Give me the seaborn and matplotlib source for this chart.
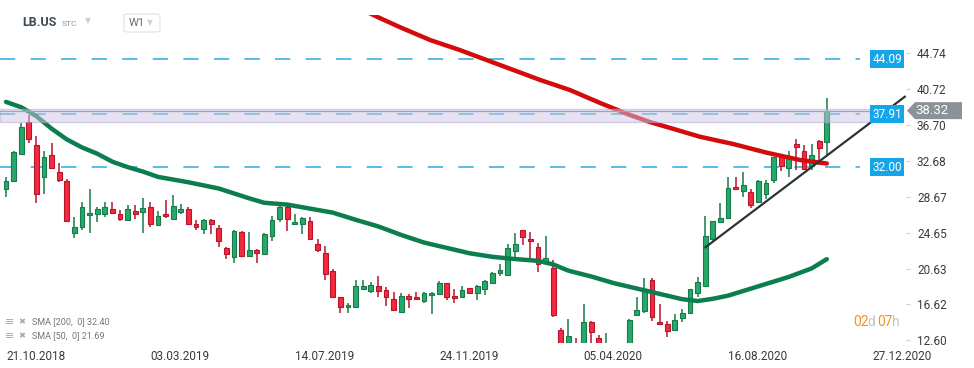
import pandas as pd
import matplotlib
matplotlib.use("Agg")
import matplotlib.pyplot as plt
from matplotlib.patches import FancyBboxPatch, Polygon
import seaborn as sns

# weekly candles, LB.US, first week 21.10.2018
start_date = "2018-10-21"
opens = [29.6, 30.4, 33.5, 37.1, 34.5, 30.9, 33.3, 31.5, 30.4, 24.6,
         25.3, 26.6, 26.8, 26.8, 27.3, 26.8, 26.1, 27.1, 27.0, 27.5,
         25.5, 26.8, 26.2, 27.0, 27.3, 25.6, 25.1, 26.1, 25.2, 22.9,
         21.9, 24.7, 22.0, 22.7, 22.3, 24.3, 26.2, 27.5, 25.6, 25.6,
         26.0, 23.4, 22.4, 20.4, 17.5, 16.3, 16.3, 18.4, 18.1, 18.7,
         18.2, 17.2, 15.8, 17.6, 17.5, 17.0, 17.7, 17.8, 19.0, 17.6,
         17.5, 18.5, 17.9, 18.4, 19.0, 20.1, 19.9, 22.6, 24.9, 23.9,
         23.0, 21.5, 20.7, 13.8, 10.0, 12.0, 10.6, 14.6, 12.9, 11.6,
         12.0, 11.0, 10.6, 15.4, 15.9, 19.4, 14.7, 14.4, 13.7, 15.1,
         15.7, 17.9, 18.7, 23.9, 25.8, 26.3, 29.8, 29.3, 29.2, 28.1,
         29.0, 30.6, 33.2, 31.9, 34.6, 33.8, 32.1, 34.9, 34.8]
highs = [30.9, 33.8, 36.9, 37.8, 35.5, 33.8, 34.7, 32.5, 30.7, 26.4,
         28.1, 29.5, 27.5, 28.1, 28.1, 27.2, 27.8, 27.7, 28.5, 28.1,
         27.1, 28.3, 28.9, 27.9, 27.5, 26.1, 26.2, 26.2, 25.5, 23.0,
         24.9, 24.8, 24.7, 22.8, 24.6, 26.5, 27.7, 27.7, 26.8, 26.4,
         26.4, 24.0, 23.2, 20.6, 17.5, 16.8, 19.4, 19.4, 19.1, 19.8,
         18.6, 18.0, 17.9, 17.8, 18.0, 18.0, 18.0, 19.2, 19.0, 18.4,
         18.7, 18.5, 18.8, 19.4, 20.2, 21.1, 23.4, 24.6, 25.0, 24.7,
         23.5, 24.3, 21.6, 14.0, 15.0, 12.9, 16.7, 14.8, 13.2, 13.4,
         12.2, 11.8, 15.0, 17.4, 19.6, 19.6, 16.7, 14.8, 15.6, 16.1,
         18.4, 19.7, 26.5, 26.0, 28.0, 30.9, 30.9, 31.5, 29.6, 30.6,
         30.6, 33.1, 33.2, 33.8, 35.2, 34.5, 34.6, 35.0, 39.7]
lows = [28.7, 30.3, 33.3, 34.7, 28.0, 29.0, 31.8, 30.3, 25.9, 24.1,
        25.0, 24.6, 25.8, 26.4, 26.7, 26.0, 26.0, 26.2, 24.6, 25.3,
        25.4, 26.3, 26.2, 26.7, 25.5, 24.9, 24.5, 24.5, 23.0, 21.7,
        21.3, 21.9, 21.9, 21.3, 22.1, 23.7, 25.9, 24.8, 25.6, 24.5,
        23.9, 22.5, 19.3, 17.3, 15.7, 15.7, 16.3, 18.2, 17.9, 17.4,
        16.4, 16.0, 15.8, 16.2, 17.2, 16.8, 15.6, 17.7, 17.1, 16.8,
        17.4, 17.9, 17.1, 17.7, 19.0, 19.8, 19.9, 21.8, 23.3, 21.8,
        20.3, 21.0, 15.2, 9.5, 9.0, 9.8, 10.4, 12.0, 11.2, 11.0,
        10.7, 10.2, 10.4, 15.3, 15.7, 14.8, 14.3, 13.0, 13.6, 14.6,
        15.7, 17.5, 18.6, 23.7, 25.8, 26.2, 29.4, 28.7, 27.4, 28.0,
        28.4, 30.2, 31.6, 30.9, 31.7, 31.7, 31.7, 32.2, 33.4]
closes = [30.4, 33.7, 36.5, 35.2, 29.0, 33.1, 31.9, 30.6, 26.0, 25.3,
          27.5, 26.9, 27.3, 27.5, 26.9, 26.2, 27.3, 26.7, 27.4, 25.6,
          26.5, 26.5, 27.6, 27.3, 25.6, 25.3, 26.1, 25.6, 23.7, 22.3,
          24.8, 22.0, 22.7, 22.4, 24.5, 26.1, 27.5, 26.2, 25.8, 26.3,
          24.0, 22.7, 20.0, 17.4, 16.3, 16.6, 18.7, 18.7, 18.8, 18.1,
          17.4, 16.0, 17.6, 17.2, 17.2, 17.9, 17.9, 19.0, 17.5, 17.3,
          18.2, 17.9, 18.7, 19.2, 20.1, 20.5, 22.9, 23.4, 24.2, 23.7,
          21.1, 21.8, 15.4, 10.5, 13.1, 10.4, 14.7, 13.5, 11.6, 12.1,
          11.0, 10.5, 14.9, 16.0, 18.3, 15.2, 14.4, 13.6, 14.9, 15.7,
          18.4, 19.1, 24.3, 26.0, 26.3, 29.7, 29.5, 30.0, 27.8, 30.4,
          30.2, 33.1, 32.1, 33.2, 34.3, 31.8, 33.3, 34.1, 38.32]

# moving averages (week index, value)
sma50_week = [0, 2, 4, 6, 8, 10, 12, 14, 16, 18, 20, 24, 28, 32, 34, 37, 40, 43,
              46, 49, 52, 55, 58, 61, 64, 67, 70, 72, 74, 77, 80, 83, 86, 89,
              91, 93, 95, 99, 103, 106, 108]
sma50_val = [39.3, 38.7, 37.7, 36.3, 35.1, 34.2, 33.5, 32.6, 32.0, 31.5, 30.9,
             30.3, 29.6, 28.5, 28.0, 27.8, 27.35, 26.9, 26.1, 25.35, 24.4,
             23.55, 22.95, 22.35, 21.95, 21.7, 21.5, 21.1, 20.4, 19.75, 19.0,
             18.4, 17.8, 17.2, 17.0, 17.25, 17.6, 18.65, 19.7, 20.65, 21.69]
sma200_week = [46, 48.9, 51.8, 55.8, 59.7, 65, 70.3, 74.2, 78.2, 82.1, 84.7,
               87.4, 91.3, 95.7, 100.1, 104.5, 108]
sma200_val = [50.0, 48.8, 47.68, 46.23, 45.11, 43.43, 41.75, 40.63, 39.17,
              37.83, 37.05, 36.38, 35.4, 34.58, 33.61, 32.79, 32.40]

levels = [44.09, 37.91, 32.00]
band = [37.08, 38.50]
last_price = 38.32
trend_week = [92, 118.3]
trend_val = [23.0, 39.9]

ytick_vals = [12.60, 16.62, 20.63, 24.65, 28.67, 32.68, 36.70, 40.72, 44.74]
xtick_dates = ["21.10.2018", "03.03.2019", "14.07.2019", "24.11.2019",
               "05.04.2020", "16.08.2020", "27.12.2020"]

df = pd.DataFrame({"o": opens, "h": highs, "l": lows, "c": closes})
df["week"] = range(len(df))
up = df["c"] >= df["o"]

W, H = 974, 368
sns.set_style("white")
plt.rcParams["font.family"] = ["Roboto", "DejaVu Sans"]

fig = plt.figure(figsize=(W / 100, H / 100), dpi=100)
ax = fig.add_axes([0, 25 / H, 910 / W, 328 / H])

g_fill, g_edge = "#27a96b", "#177a4a"
r_fill, r_edge = "#f52a3e", "#b5162b"

# horizontal levels
for lv in levels:
    ax.axhline(lv, xmax=860 / 910, color="#29a9e4", lw=1.1,
               ls=(0, (10, 10)), zorder=1)

# candles
fills = [g_fill if u else r_fill for u in up]
edges = [g_edge if u else r_edge for u in up]
ax.vlines(df["week"], df["l"], df["h"], colors=edges, lw=1.1, zorder=2)
body_lo = df[["o", "c"]].min(axis=1)
body_h = (df["c"] - df["o"]).abs().clip(lower=0.12)
ax.bar(df["week"], body_h, bottom=body_lo, width=0.62, color=fills,
       edgecolor=edges, linewidth=0.8, zorder=3)

# moving averages
sns.lineplot(x=sma50_week, y=sma50_val, color="#0b7d4e", lw=3.2, ax=ax,
             zorder=4, sort=False)
sns.lineplot(x=sma200_week, y=sma200_val, color="#d40b0b", lw=3.2, ax=ax,
             zorder=4, sort=False)

# resistance band + last price line
ax.axhspan(band[0], band[1], xmax=870 / 910, facecolor="#cfc6e6", alpha=0.5,
           edgecolor="#b3a8d6", lw=1, zorder=5)
ax.axhline(last_price, xmax=870 / 910, color="#a4a4ae", lw=0.9, zorder=5)

# trend line
ax.plot(trend_week, trend_val, color="#2e3338", lw=1.6, zorder=6,
        solid_capstyle="round")

x0 = -6 / 7.6
x1 = (910 - 6) / 7.6
ax.set_xlim(x0, x1)
ax.set_ylim(12.30, 49.03)

# level labels
for lv in levels:
    ax.text((887 - 6) / 7.6, lv, f"{lv:.2f}", color="white", fontsize=8.5,
            ha="center", va="center", zorder=8,
            bbox=dict(boxstyle="square,pad=0.22", fc="#14a6e9", ec="none"))

# axes ticks
dates = pd.to_datetime(xtick_dates, format="%d.%m.%Y")
xpos = (dates - pd.Timestamp(start_date)).days / 7
ax.set_xticks(xpos)
ax.set_xticklabels(xtick_dates, ha="left", fontsize=8.5, color="#3a3a3a")
ax.yaxis.tick_right()
ax.set_yticks(ytick_vals)
ax.set_yticklabels([f"{v:.2f}" for v in ytick_vals], fontsize=8.5,
                   color="#3a3a3a")
ax.tick_params(axis="y", direction="in", length=3, color="#cfcfcf", pad=5)
ax.tick_params(axis="x", direction="out", length=4, color="#cfcfcf", pad=1)
for s in ax.spines.values():
    s.set_visible(False)
ax.set_xlabel("")
ax.set_ylabel("")

# last price tag
yl = ax.transData.transform((0, last_price))[1]
tag_y = H - yl
pts = [(907, tag_y), (915, tag_y - 8.5), (962, tag_y - 8.5),
       (962, tag_y + 8.5), (915, tag_y + 8.5)]
fig.patches.append(Polygon([(x / W, 1 - y / H) for x, y in pts],
                           closed=True, fc="#8b9396", ec="none",
                           transform=fig.transFigure, zorder=9))
fig.text(915 / W, 1 - tag_y / H, f"{last_price:.2f}", color="white",
         fontsize=9.5, va="center", ha="left", zorder=10)


def ftext(x, y, s, **kw):
    fig.text(x / W, 1 - y / H, s, va="center", **kw)


# header
ftext(22, 23, "LB.US", fontsize=9, fontweight="bold", color="#3d4b57")
ftext(62, 24, "STC", fontsize=6, color="#8796a5")
ftext(85, 21, "▼", fontsize=5.5, color="#cfcfcf", family="DejaVu Sans")
fig.patches.append(FancyBboxPatch((124 / W, 1 - 32 / H), 36 / W, 18 / H,
                                  boxstyle="round,pad=0,rounding_size=0.004",
                                  fc="white", ec="#e2e2e2", lw=0.8,
                                  transform=fig.transFigure))
ftext(129, 23, "W1", fontsize=8, color="#6d6d6d")
ftext(147, 23, "▼", fontsize=5.5, color="#d0d0d0", family="DejaVu Sans")

# indicator legend
for yy, s in [(322, "SMA [200,  0] 32.40"), (336, "SMA [50,  0] 21.69")]:
    ftext(5, yy, "≡", fontsize=8, color="#a8a8a8", family="DejaVu Sans")
    ftext(18, yy, "✖", fontsize=6, color="#a8a8a8", family="DejaVu Sans")
    ftext(32, yy, s, fontsize=6.5, color="#777777")

# countdown
ftext(853, 322, "02", fontsize=10, color="#f7941d")
ftext(867, 322, "d", fontsize=10, color="#c4c4c4")
ftext(877, 322, "07", fontsize=10, color="#f7941d")
ftext(892, 322, "h", fontsize=10, color="#c4c4c4")

fig.savefig("out.png", dpi=100)
